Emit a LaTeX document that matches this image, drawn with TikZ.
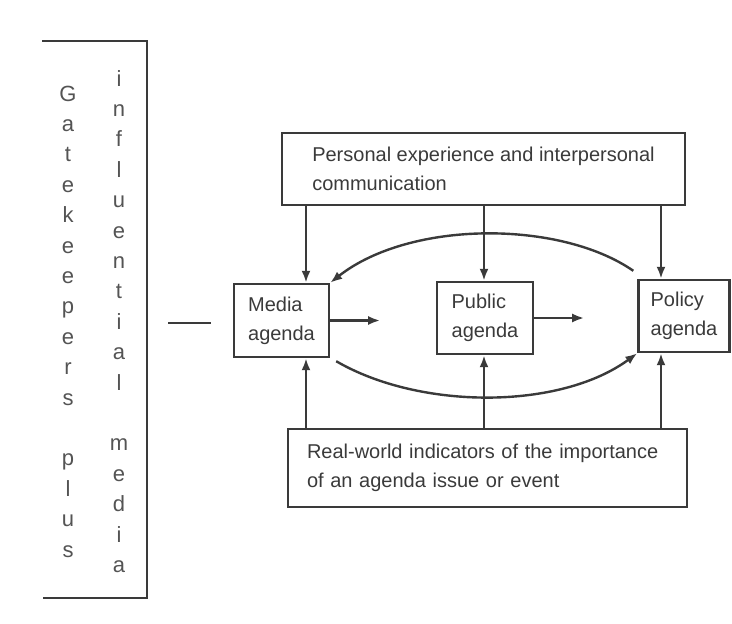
\documentclass[tikz,border=0pt]{standalone}
\usepackage{fontspec}
\setmainfont{Liberation Sans}
\usetikzlibrary{arrows.meta}
\definecolor{ink}{HTML}{3A3A3A}
\definecolor{faded}{HTML}{545454}

\begin{document}
\begin{tikzpicture}[x=1pt, y=-1pt, line width=2.4pt, color=ink,
		font=\fontsize{20}{29}\selectfont,
		box/.style={draw, rectangle, inner sep=0pt, align=left},
		arr/.style={-{Latex[length=12pt,width=9pt]}},
		letter/.style={anchor=base, inner sep=0pt, text=faded, font=\fontsize{22}{22}\selectfont}]
		\useasboundingbox (0,0) rectangle (732,624);
		
		% bracket with the two letter columns
		\draw (42,41) -- (147,41) -- (147,598) -- (43,598);
		\foreach \ch/\k in {G/0,a/1,t/2,e/3,k/4,e/5,e/6,p/7,e/8,r/9,s/10,p/12,l/13,u/14,s/15}
			\node[letter] (gk\k) at (68, 101+30.4*\k) {\ch};
		\foreach \ch/\k in {i/0,n/1,f/2,l/3,u/4,e/5,n/6,t/7,i/8,a/9,l/10,m/12,e/13,d/14,i/15,a/16}
			\node[letter] (im\k) at (119, 86+30.4*\k) {\ch};
		
		\draw (168,323) -- (211,323);
		
		% the three agendas
		\node[box, minimum width=95pt, minimum height=73pt] (media) at (281.5,320.5) {Media\\agenda};
		\node[box, minimum width=96pt, minimum height=72pt] (public) at (485,318) {Public\\agenda};
		\node[box, minimum width=91pt, minimum height=72pt] (policy) at (684,316) {Policy\\agenda};
		
		\node[box, minimum width=403pt, minimum height=72pt] (personal) at (483.5,169)
			{Personal experience and interpersonal\\communication};
		\node[box, text width=361pt, inner xsep=19pt, minimum height=78pt] (reality) at (487.5,468)
			{Real-world indicators of the importance\\of an agenda issue or event};
		
		\foreach \b/\s in {media/24.5,public/-1,policy/-23}{
			\coordinate (\b-n) at ([xshift=\s pt]\b.north);
			\coordinate (\b-s) at ([xshift=\s pt]\b.south);
			\draw[arr] (\b-n |- personal.south) -- (\b-n);
			\draw[arr] (\b-s |- reality.north) -- (\b-s);
		}
		
		\draw[arr] (media.east) -- ++(50,0);
		\draw[arr] (public.east) -- ++(50,0);
		
		\draw[arr] ([xshift=-4pt,yshift=8pt]policy.north west) .. controls (560,220) and (410,220) .. (media.north east);
		\draw[arr] ([xshift=6pt,yshift=-3pt]media.south east) .. controls (420,410) and (560,410) .. (policy.south west);
		
	\end{tikzpicture}
\end{document}
